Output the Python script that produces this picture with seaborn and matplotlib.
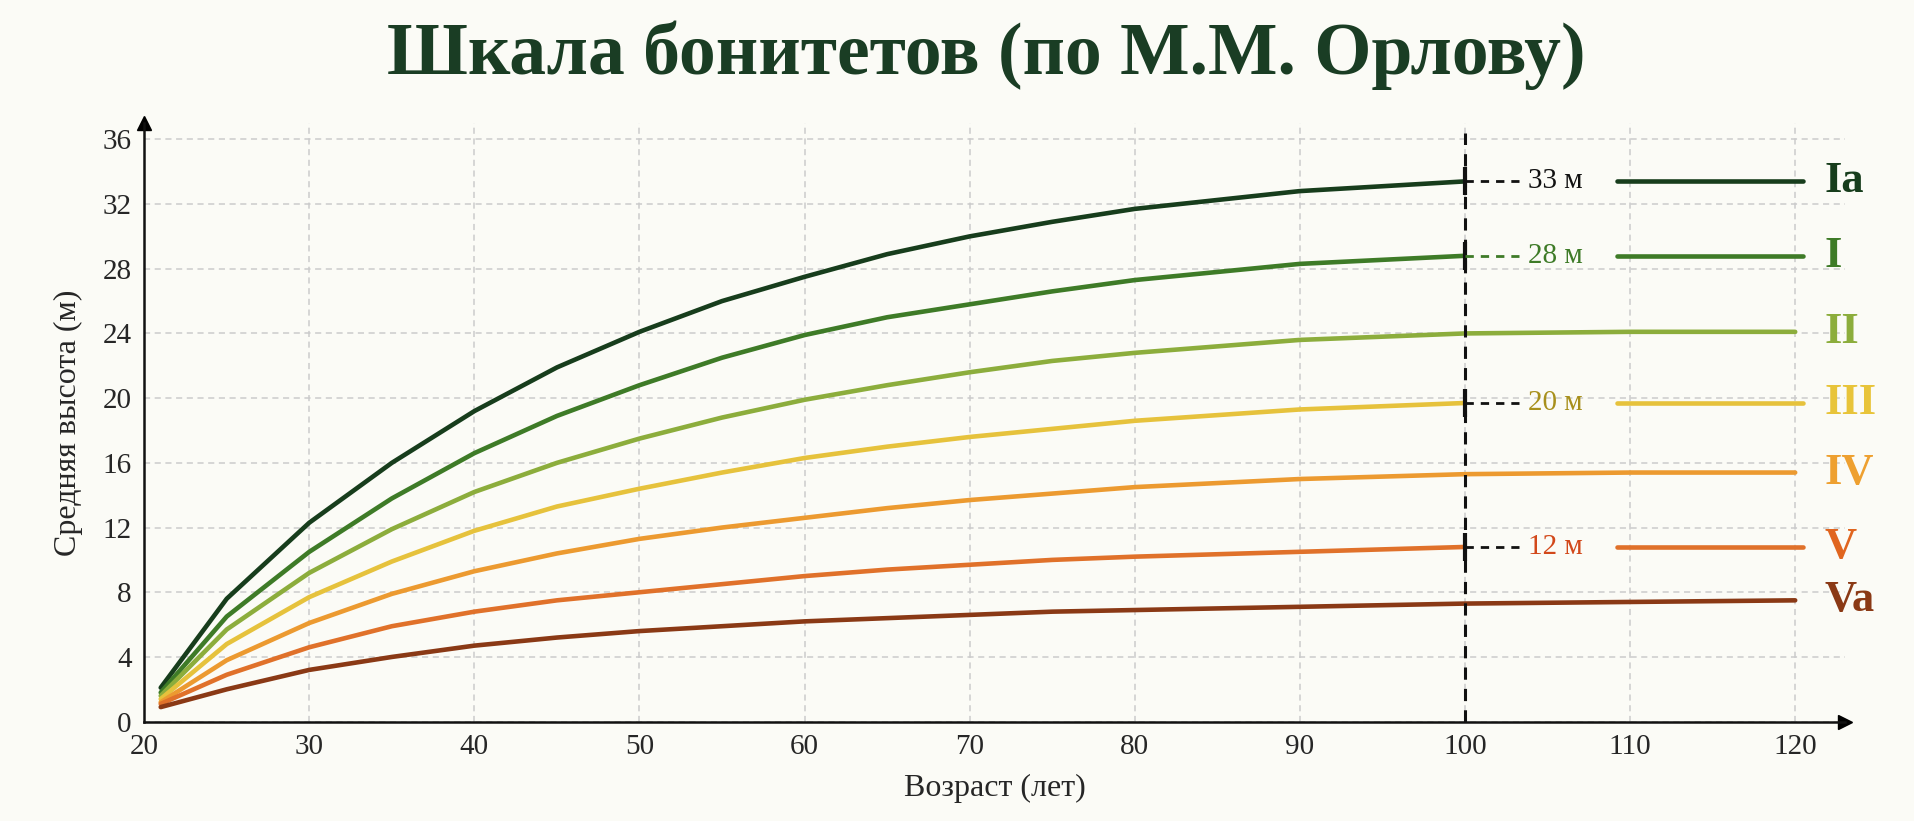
import numpy as np
import pandas as pd
import matplotlib
matplotlib.use("Agg")
import matplotlib.pyplot as plt
import seaborn as sns

# ── Data ──
ages = [21, 25, 30, 35, 40, 45, 50, 55, 60, 65, 70, 75, 80, 90, 100]
ages_ext = ages + [110, 120]
classes = ["Ia", "I", "II", "III", "IV", "V", "Va"]
heights = {
    "Ia":  [2.1, 7.6, 12.3, 16.0, 19.2, 21.9, 24.1, 26.0, 27.5, 28.9, 30.0, 30.9, 31.7, 32.8, 33.4],
    "I":   [1.8, 6.5, 10.5, 13.8, 16.6, 18.9, 20.8, 22.5, 23.9, 25.0, 25.8, 26.6, 27.3, 28.3, 28.8],
    "II":  [1.6, 5.7, 9.2, 11.9, 14.2, 16.0, 17.5, 18.8, 19.9, 20.8, 21.6, 22.3, 22.8, 23.6, 24.0, 24.1, 24.1],
    "III": [1.4, 4.8, 7.7, 9.9, 11.8, 13.3, 14.4, 15.4, 16.3, 17.0, 17.6, 18.1, 18.6, 19.3, 19.7],
    "IV":  [1.2, 3.8, 6.1, 7.9, 9.3, 10.4, 11.3, 12.0, 12.6, 13.2, 13.7, 14.1, 14.5, 15.0, 15.3, 15.4, 15.4],
    "V":   [1.1, 2.9, 4.6, 5.9, 6.8, 7.5, 8.0, 8.5, 9.0, 9.4, 9.7, 10.0, 10.2, 10.5, 10.8],
    "Va":  [0.9, 2.0, 3.2, 4.0, 4.7, 5.2, 5.6, 5.9, 6.2, 6.4, 6.6, 6.8, 6.9, 7.1, 7.3, 7.4, 7.5],
}
colors = ["#173d1c", "#3e7b27", "#8cad3c", "#e6c23c", "#ec9a30", "#e0712a", "#8a3915"]
label_colors = ["#173d1c", "#3e7b27", "#8cad3c", "#e8c43a", "#eea030", "#e0651f", "#8a3915"]
# annotated classes at age 100: class -> (label, text colour)
marks = {"Ia": ("33 м", "#111111"), "I": ("28 м", "#3e7b27"),
         "III": ("20 м", "#a8901c"), "V": ("12 м", "#d2481a")}

rows = []
for c in classes:
    xs = ages_ext if len(heights[c]) == len(ages_ext) else ages
    for a, h in zip(xs, heights[c]):
        rows.append({"age": a, "h": h, "cls": c})
df = pd.DataFrame(rows)

sns.set_style("white")
plt.rcParams["font.family"] = ["Liberation Serif", "DejaVu Serif"]
bg = "#fbfbf6"
fig = plt.figure(figsize=(19.15, 8.21), dpi=100, facecolor=bg)
ax = fig.add_axes([0.0753, 0.121, 0.888, 0.729], facecolor=bg)

sns.lineplot(data=df, x="age", y="h", hue="cls", hue_order=classes,
             palette=colors, linewidth=3.3, legend=False, ax=ax, sort=True)

ax.set_xlim(20, 123)
ax.set_ylim(0, 37)
ax.set_xticks(range(20, 121, 10))
ax.set_yticks(range(0, 37, 4))
ax.grid(True, color="#cbcbcb", linestyle=(0, (4, 3)), linewidth=1.1)
for s in ["top", "right"]:
    ax.spines[s].set_visible(False)
for s in ["left", "bottom"]:
    ax.spines[s].set_color("#111111")
    ax.spines[s].set_linewidth(1.8)
ax.plot(1, 0, ">k", transform=ax.transAxes, clip_on=False, markersize=10)
ax.plot(0, 1, "^k", transform=ax.transAxes, clip_on=False, markersize=10)
ax.tick_params(axis="both", labelsize=21, length=0, pad=9)
ax.set_xlabel("Возраст (лет)", fontsize=23, labelpad=10)
ax.set_ylabel("Средняя высота (м)", fontsize=23, labelpad=14)

# reference line at 100 years
ax.plot([100, 100], [0, 36.4], color="#111111", linestyle=(0, (4, 3)), linewidth=2.2)

for c, lc in zip(classes, label_colors):
    end_h = heights[c][len(ages) - 1]
    final_h = heights[c][-1]
    if c in marks:
        txt, tc = marks[c]
        ax.plot([100], [end_h], marker="|", color="#111111", markersize=20, mew=3)
        ax.plot([100, 103.3], [end_h, end_h], color="#111111" if c != "I" else "#3e7b27",
                linestyle=(0, (3, 2.5)), linewidth=2)
        ax.text(103.8, end_h, txt, color=tc, fontsize=21, ha="left", va="center")
        ax.plot([109.2, 120.5], [end_h, end_h], color=colors[classes.index(c)],
                linewidth=3.3, clip_on=False)
        final_h = end_h
    ax.text(121.8, final_h, c, color=lc, fontsize=32, fontweight="bold",
            ha="left", va="center", clip_on=False)

fig.text(0.515, 0.933, "Шкала бонитетов (по М.М. Орлову)", ha="center", va="center",
         fontsize=53, fontweight="bold", color="#1a3d24")

fig.savefig("out.png", dpi=100, facecolor=bg)
